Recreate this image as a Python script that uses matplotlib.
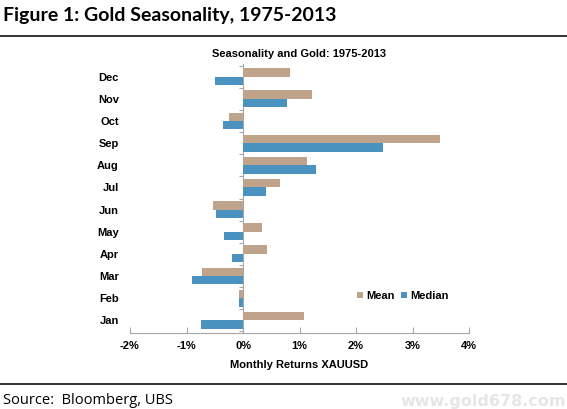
import matplotlib
matplotlib.use("Agg")
import matplotlib.pyplot as plt
from matplotlib.ticker import FuncFormatter, MultipleLocator
import numpy as np

# monthly returns XAUUSD, %
months = ["Jan", "Feb", "Mar", "Apr", "May", "Jun",
          "Jul", "Aug", "Sep", "Oct", "Nov", "Dec"]
mean_ret = [1.08, -0.07, -0.73, 0.42, 0.34, -0.53,
            0.66, 1.14, 3.48, -0.25, 1.23, 0.83]
median_ret = [-0.75, -0.07, -0.91, -0.20, -0.34, -0.47,
              0.41, 1.29, 2.48, -0.35, 0.77, -0.49]

MEAN_C = "#BFA38A"
MEDIAN_C = "#4A92BF"
AX_C = "#A6A6A6"

fig = plt.figure(figsize=(5.67, 4.09), dpi=100)

# page furniture
fig.text(0.006, 0.962, "Figure 1: Gold Seasonality, 1975-2013", family="Lato",
         fontsize=14, fontweight="bold", va="center", ha="left")
fig.add_artist(plt.Line2D([0, 1], [0.913, 0.913], color="#222222", lw=1.3))
fig.add_artist(plt.Line2D([0, 1], [0.061, 0.061], color="#222222", lw=1.3))
fig.text(0.006, 0.022, "Source:  Bloomberg, UBS", family="Open Sans",
         fontsize=10.5, va="center", ha="left")
fig.text(0.998, 0.018, "www.gold678.com", family="DejaVu Sans", fontsize=11.5,
         fontweight="bold", color="#E6E6E6", ha="right", va="center")

ax = fig.add_axes([130 / 567, 1 - 333 / 409, (469 - 130) / 567, (333 - 64) / 409])
y = np.arange(len(months))
h = 0.38
ax.barh(y + h / 2, mean_ret, height=h, color=MEAN_C, label="Mean")
ax.barh(y - h / 2, median_ret, height=h, color=MEDIAN_C, label="Median")

ax.set_xlim(-2, 4)
ax.set_ylim(-0.57, len(months) - 0.43)
ax.xaxis.set_major_locator(MultipleLocator(1))
ax.xaxis.set_major_formatter(FuncFormatter(lambda v, p: f"{v:.0f}%"))
ax.set_yticks(y)
ax.set_yticklabels(months)

for s in ["top", "right", "left"]:
    ax.spines[s].set_visible(False)
ax.spines["bottom"].set_color(AX_C)
ax.tick_params(axis="x", direction="in", length=4, color=AX_C, pad=6)
ax.tick_params(axis="y", length=0, pad=8)
for lab in ax.get_xticklabels() + ax.get_yticklabels():
    lab.set_family("Liberation Sans")
    lab.set_fontweight("bold")
    lab.set_fontsize(8)

# vertical axis sits at 0% with tick marks between months
zero_ax = ax.secondary_yaxis(2 / 6)
zero_ax.spines["left"].set_color(AX_C)
zero_ax.set_yticks(np.arange(-0.5, len(months), 1.0))
zero_ax.tick_params(axis="y", length=3, color=AX_C, labelleft=False)

ax.set_xlabel("Monthly Returns XAUUSD", family="Liberation Sans",
              fontweight="bold", fontsize=8, labelpad=6)
ax.set_title("Seasonality and Gold: 1975-2013", family="Liberation Sans",
             fontweight="bold", fontsize=8, pad=5)

leg = ax.legend(loc="center", bbox_to_anchor=(0.805, 0.137), ncol=2, frameon=False,
                handlelength=0.5, handleheight=0.5, handletextpad=0.3,
                columnspacing=0.6, prop={"family": "Liberation Sans",
                                         "weight": "bold", "size": 8})

fig.savefig("out.png", dpi=100)
